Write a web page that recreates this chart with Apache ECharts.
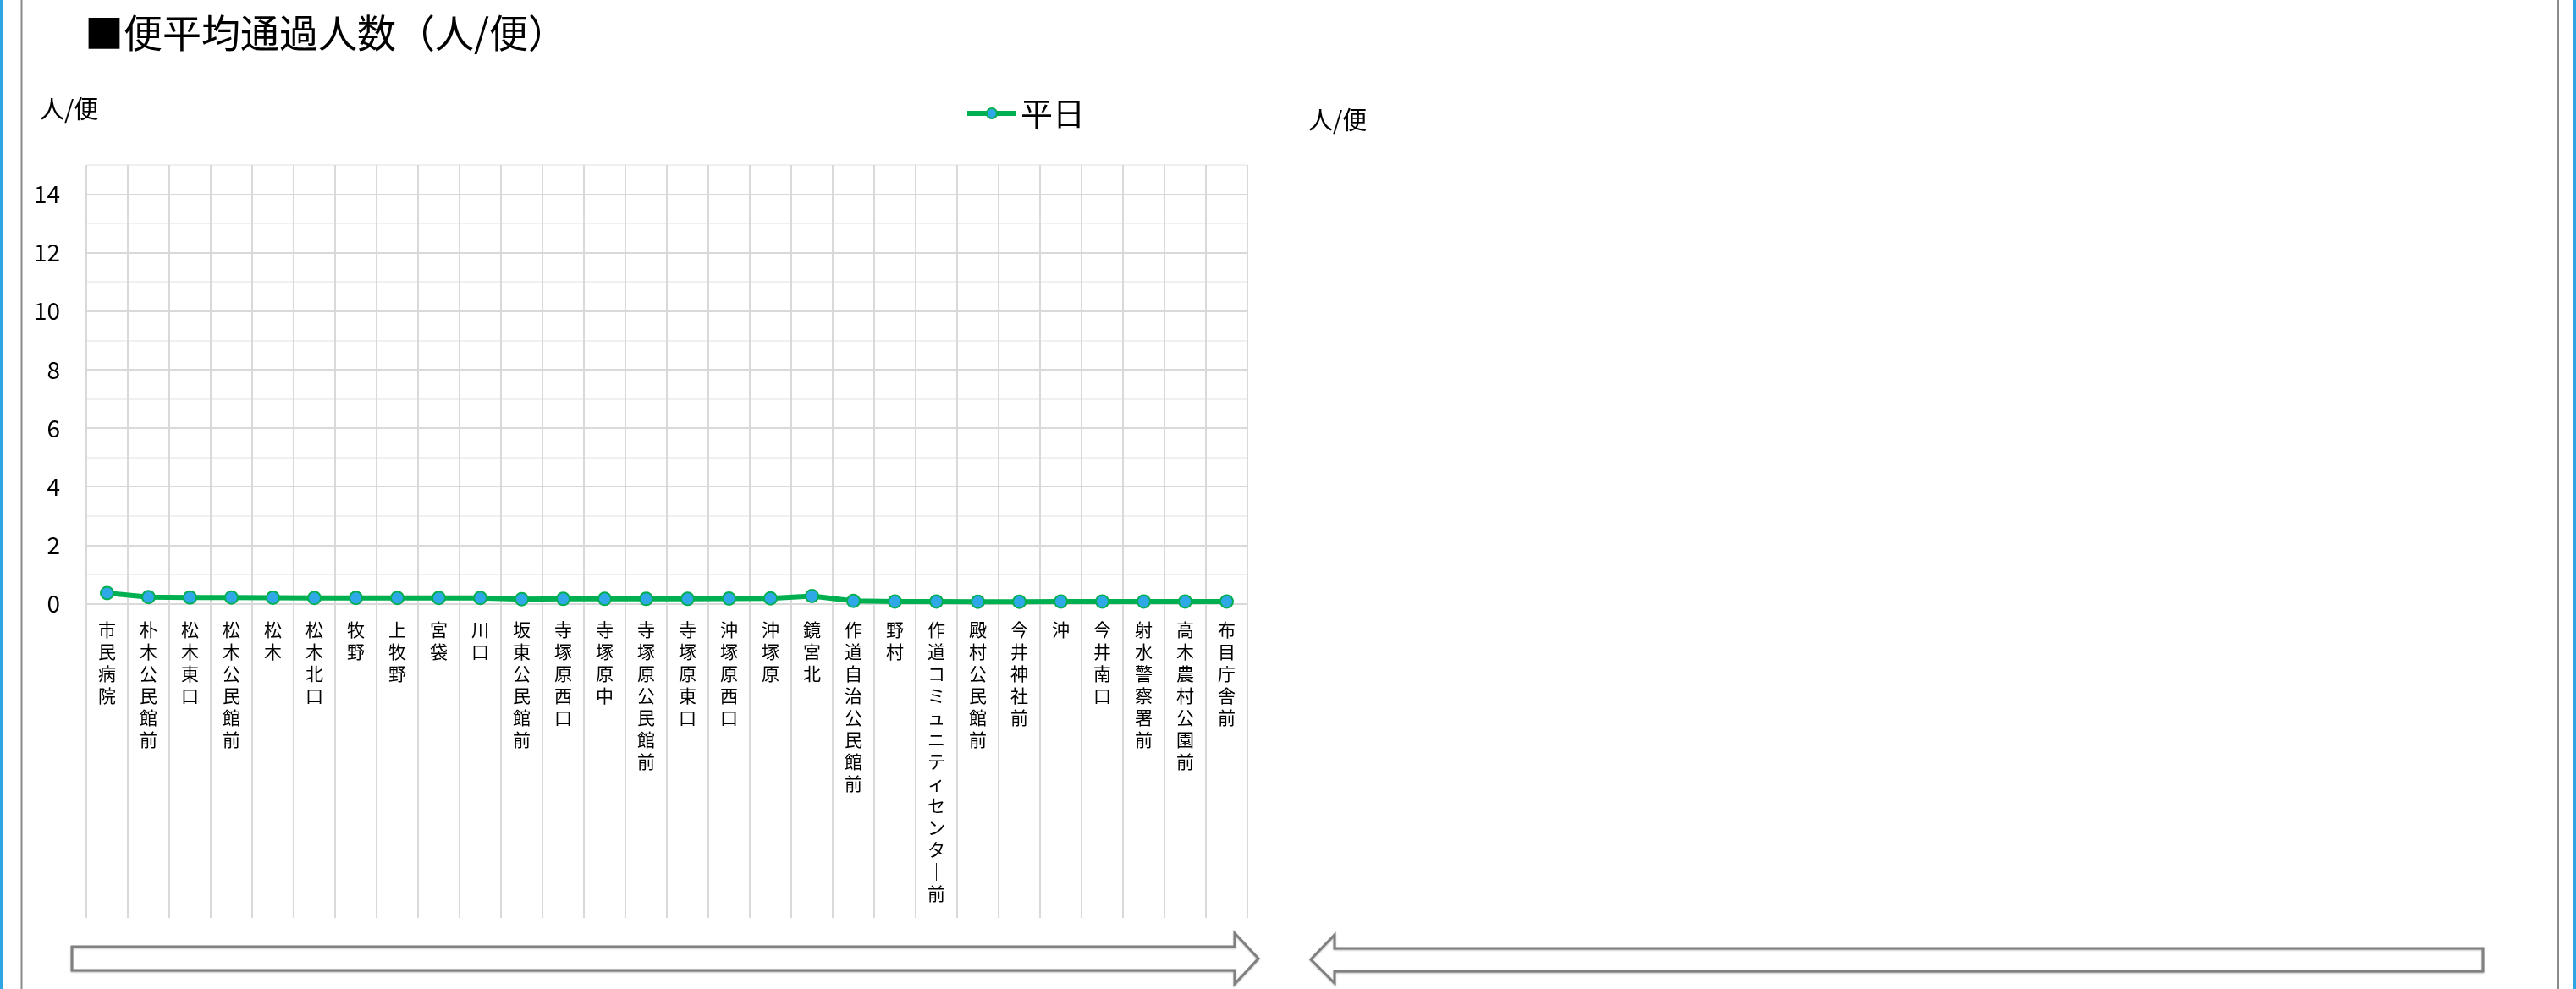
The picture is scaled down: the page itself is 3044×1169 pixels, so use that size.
<!DOCTYPE html>
<html>
<head>
<meta charset="utf-8">
<script src="https://cdn.jsdelivr.net/npm/echarts@6/dist/echarts.min.js"></script>
<style>
html,body{margin:0;padding:0;background:#fff;}
#chart{width:3044px;height:1169px;}
</style>
</head>
<body>
<div id="chart"></div>
<script>
const titleText = '■便平均通過人数（人/便）';
const unitText = '人/便';
const seriesName = '平日';
const stops = ['市民病院','朴木公民館前','松木東口','松木公民館前','松木','松木北口','牧野','上牧野','宮袋','川口','坂東公民館前','寺塚原西口','寺塚原中','寺塚原公民館前','寺塚原東口','沖塚原西口','沖塚原','鏡宮北','作道自治公民館前','野村','作道コミュニティセンター前','殿村公民館前','今井神社前','沖','今井南口','射水警察署前','高木農村公園前','布目庁舎前'];
const weekday = [0.36,0.22,0.21,0.21,0.20,0.19,0.19,0.19,0.19,0.19,0.15,0.16,0.16,0.16,0.16,0.17,0.18,0.26,0.09,0.07,0.07,0.06,0.06,0.07,0.07,0.07,0.07,0.07];
const yTicks = [0,2,4,6,8,10,12,14];

const FONT = '"Noto Sans CJK JP", "Noto Sans", sans-serif';
const chart = echarts.init(document.getElementById('chart'), null, {renderer:'canvas'});

const LINE_COLOR = '#00b050';
const DOT_COLOR = '#2fa8e8';

const option = {
  backgroundColor:'#ffffff',
  animation:false,
  textStyle:{fontFamily:FONT},
  legend:{
    data:[{name:seriesName,
      lineStyle:{color:LINE_COLOR, width:6},
      itemStyle:{color:DOT_COLOR, borderColor:LINE_COLOR, borderWidth:2}}],
    left:1135, top:110,
    itemWidth:58, itemHeight:15, itemGap:4,
    textStyle:{fontSize:38, color:'#000', fontFamily:FONT}
  },
  grid:[
    {left:102, right:1570, top:195, bottom:455.6, containLabel:false},
    {left:102, right:1570, top:713.4, bottom:84, containLabel:false}
  ],
  xAxis:[
    {
      type:'category', gridIndex:0, data:stops, boundaryGap:true,
      axisLine:{show:false}, axisTick:{show:false, interval:0},
      splitLine:{show:true, interval:0, lineStyle:{color:'#d9d9d9', width:2}},
      axisLabel:{
        interval:0, margin:18, fontSize:21, lineHeight:26, color:'#000',
        verticalAlign:'top', fontFamily:FONT,
        formatter:function(v){return v.split('').map(function(c){return c==='ー'?'｜':c;}).join('\n');}
      }
    },
    {
      type:'category', gridIndex:1, data:stops, boundaryGap:true,
      axisLine:{show:false}, axisTick:{show:false, interval:0}, axisLabel:{show:false, interval:0},
      splitLine:{show:true, interval:0, lineStyle:{color:'#d9d9d9', width:2}}
    }
  ],
  yAxis:[
    {
      type:'value', gridIndex:0, min:0, max:15, interval:1,
      axisLine:{show:false}, axisTick:{show:false},
      axisLabel:{
        margin:31, fontSize:28, color:'#000', fontFamily:FONT,
        formatter:function(v){return yTicks.indexOf(v)>=0 ? String(v) : '';}
      },
      splitLine:{show:true, lineStyle:{color:['#d9d9d9','#f0f0f0'], width:2}}
    },
    {
      type:'value', gridIndex:1, show:false, min:0, max:1,
      splitLine:{show:false}
    }
  ],
  series:[
    {
      name:seriesName, type:'line', xAxisIndex:0, yAxisIndex:0,
      data:weekday,
      symbol:'circle', symbolSize:15,
      lineStyle:{color:LINE_COLOR, width:6},
      itemStyle:{color:DOT_COLOR, borderColor:LINE_COLOR, borderWidth:2},
      z:5
    }
  ],
  graphic:[
    {type:'rect', shape:{x:0,y:0,width:3,height:1169}, style:{fill:'#2ea6e6'}, silent:true},
    {type:'rect', shape:{x:3041,y:0,width:3,height:1169}, style:{fill:'#2ea6e6'}, silent:true},
    {type:'line', shape:{x1:25.5,y1:0,x2:25.5,y2:1169}, style:{stroke:'#8a8a8a', lineWidth:2}, silent:true},
    {type:'line', shape:{x1:3023,y1:0,x2:3023,y2:1169}, style:{stroke:'#8a8a8a', lineWidth:2}, silent:true},
    {type:'text', left:100, top:16, style:{text:titleText, font:'46px '+FONT, fill:'#000'}, silent:true},
    {type:'text', left:47, top:114, style:{text:unitText, font:'29px '+FONT, fill:'#000'}, silent:true},
    {type:'text', left:1546, top:127, style:{text:unitText, font:'29px '+FONT, fill:'#000'}, silent:true},
    {type:'polygon', shape:{points:[[85,1119],[1459,1119],[1459,1103],[1487,1133],[1459,1163],[1459,1147],[85,1147]]},
      style:{fill:'#fff', stroke:'#808080', lineWidth:3, shadowBlur:2, shadowColor:'rgba(0,0,0,0.25)', shadowOffsetY:1}, silent:true},
    {type:'polygon', shape:{points:[[2934,1121],[1577,1121],[1577,1105],[1549,1134],[1577,1162],[1577,1148],[2934,1148]]},
      style:{fill:'#fff', stroke:'#808080', lineWidth:3, shadowBlur:2, shadowColor:'rgba(0,0,0,0.25)', shadowOffsetY:1}, silent:true}
  ]
};
chart.setOption(option);
</script>
</body>
</html>
